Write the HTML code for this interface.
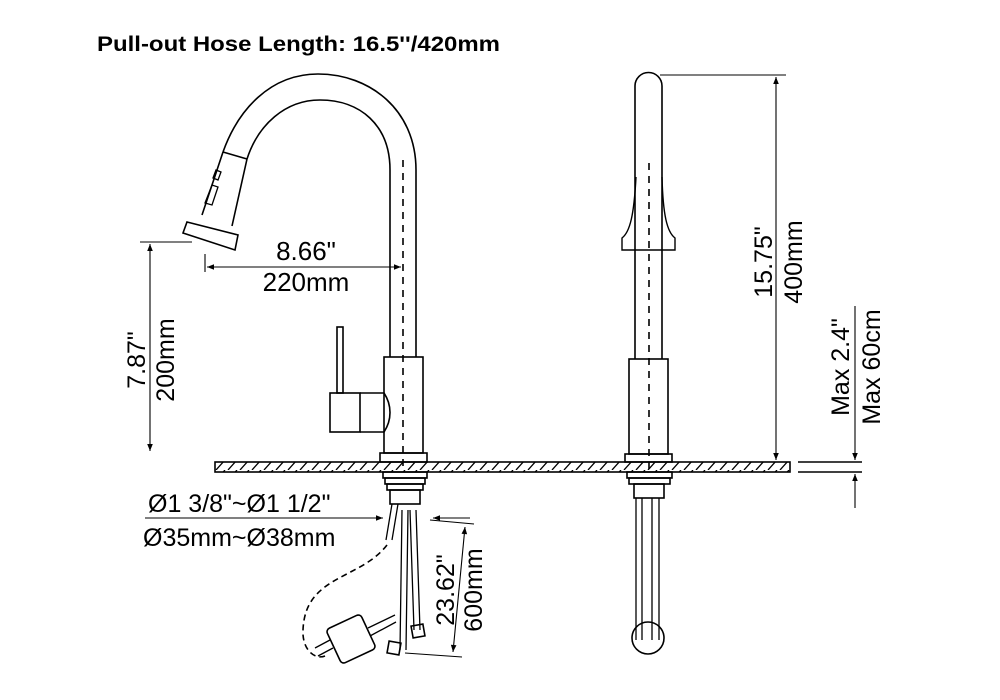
<!DOCTYPE html>
<html><head><meta charset="utf-8"><style>
html,body{margin:0;padding:0;background:#fff;}
svg{display:block;font-family:"Liberation Sans",Arial,sans-serif;}
</style></head><body>
<svg width="1000" height="700" viewBox="0 0 1000 700" xmlns="http://www.w3.org/2000/svg">
<defs>
<pattern id="h" width="12" height="10" patternUnits="userSpaceOnUse">
<line x1="0" y1="10" x2="9" y2="0" stroke="#000" stroke-width="1.3"/>
<line x1="12" y1="10" x2="21" y2="0" stroke="#000" stroke-width="1.3"/>
</pattern>
<marker id="a" viewBox="0 0 10 10" refX="10" refY="5" markerWidth="9" markerHeight="7" orient="auto-start-reverse" markerUnits="userSpaceOnUse"><path d="M0,1 L10,5 L0,9 z" fill="#000"/></marker>
</defs>
<text x="97" y="51" font-size="21" font-weight="bold" textLength="403" lengthAdjust="spacingAndGlyphs">Pull-out Hose Length: 16.5''/420mm</text>

<g fill="none" stroke="#000" stroke-width="1.6">
<rect x="215" y="462" width="575" height="10" fill="url(#h)" stroke="#000"/>
<line x1="798" y1="462" x2="862" y2="462"/>
<line x1="798" y1="472" x2="862" y2="472"/>

<path d="M416,357 L416,170 C416,110 370,74 318,74 C270,74 238,110 223,152"/>
<path d="M390,357 L390,170 C390,125 360,100 320,100 C285,100 258,125 247,159"/>
<path d="M223,152 L247,159 M223,152 L202,215 M247,159 L232,226"/>
<path d="M187,222 L238,235 L235,250 L183,233 Z"/>
<path d="M205,203 L212,185 L218,187 L212,205 Z M213,178 l3,-8 l5,2 l-3,8 z" stroke-width="1.3"/>
<rect x="384" y="357" width="39" height="96"/>
<rect x="380" y="453" width="47" height="9"/>
<rect x="337" y="327" width="6" height="66"/>
<rect x="330" y="393" width="30" height="39"/>
<path d="M360,393 L384,393 C392,405 392,420 384,432 L360,432"/>
<line x1="403" y1="160" x2="403" y2="470" stroke-dasharray="7,6"/>
<rect x="383" y="472" width="44" height="6"/>
<rect x="385" y="478" width="40" height="6"/>
<rect x="387" y="484" width="36" height="6"/>
<rect x="390" y="490" width="30" height="14"/>
<path d="M392,504 L386,540 M398,504 L392,540" stroke-width="1.3"/>
<path d="M402,510 L400,650 M408,510 L406,650 M410,510 L414,630 M416,510 L420,630" stroke-width="1.3"/>
<rect x="388" y="642" width="12" height="12" transform="rotate(10 394 648)"/>
<rect x="412" y="625" width="12" height="12" transform="rotate(-10 418 631)"/>
<path d="M387,545 C360,580 305,575 303,630 C302,650 315,660 325,656" stroke-dasharray="6,4"/>
<rect x="332" y="620" width="38" height="38" rx="4" transform="rotate(-25 351 639)"/>
<path d="M368,628 L395,615 M370,636 L396,622" stroke-width="1.3"/>
<path d="M330,640 L315,648 M333,648 L318,656" stroke-width="1.3"/>

<path d="M635,359 L635,86 A13.5,13.5 0 0 1 662,86 L662,359"/>
<path d="M636,177 C634,215 630,232 622,238 L622,250 L675,250 L675,238 C667,232 663,215 662,177" stroke-width="1.4"/>
<rect x="629" y="359" width="39" height="95"/>
<rect x="625" y="454" width="47" height="8"/>
<line x1="649" y1="163" x2="649" y2="470" stroke-dasharray="7,6"/>
<rect x="627" y="472" width="45" height="6"/>
<rect x="629" y="478" width="41" height="6"/>
<rect x="634" y="484" width="30" height="14"/>
<path d="M636,498 L636,640 M642,498 L642,640 M652,498 L652,640 M659,498 L659,640" stroke-width="1.3"/>
<circle cx="648" cy="638" r="16"/>

<g stroke-width="1.1">
<line x1="140" y1="242" x2="192" y2="242"/>
<line x1="150" y1="244" x2="150" y2="451" marker-start="url(#a)" marker-end="url(#a)"/>
<line x1="205" y1="254" x2="205" y2="272"/>
<line x1="207" y1="267" x2="401" y2="267" marker-start="url(#a)" marker-end="url(#a)"/>
<line x1="660" y1="75" x2="786" y2="75"/>
<line x1="776" y1="77" x2="776" y2="460" marker-start="url(#a)" marker-end="url(#a)"/>
<line x1="855" y1="306" x2="855" y2="460" marker-end="url(#a)"/>
<line x1="855" y1="508" x2="855" y2="474" marker-end="url(#a)"/>
<line x1="145" y1="518" x2="383" y2="518" marker-end="url(#a)"/>
<line x1="470" y1="518" x2="433" y2="518" marker-end="url(#a)"/>
<line x1="430" y1="520" x2="474" y2="524"/>
<line x1="405" y1="653" x2="462" y2="657"/>
<line x1="465" y1="527" x2="453" y2="652" marker-start="url(#a)" marker-end="url(#a)"/>
</g>
</g>

<g font-size="25" fill="#000">
<text x="306" y="260" text-anchor="middle" font-size="26">8.66"</text>
<text x="306" y="291" text-anchor="middle" font-size="26">220mm</text>
<text transform="translate(145,360) rotate(-90)" text-anchor="middle">7.87"</text>
<text transform="translate(174,360) rotate(-90)" text-anchor="middle">200mm</text>
<text transform="translate(772,262) rotate(-90)" text-anchor="middle">15.75"</text>
<text transform="translate(802,262) rotate(-90)" text-anchor="middle">400mm</text>
<text transform="translate(849,367) rotate(-90)" text-anchor="middle">Max 2.4"</text>
<text transform="translate(880,367) rotate(-90)" text-anchor="middle">Max 60cm</text>
<text x="148" y="512">Ø1 3/8"~Ø1 1/2"</text>
<text x="143" y="546">Ø35mm~Ø38mm</text>
<text transform="translate(454,590) rotate(-90)" text-anchor="middle">23.62"</text>
<text transform="translate(482,590) rotate(-90)" text-anchor="middle">600mm</text>
</g>
</svg>
</body></html>
